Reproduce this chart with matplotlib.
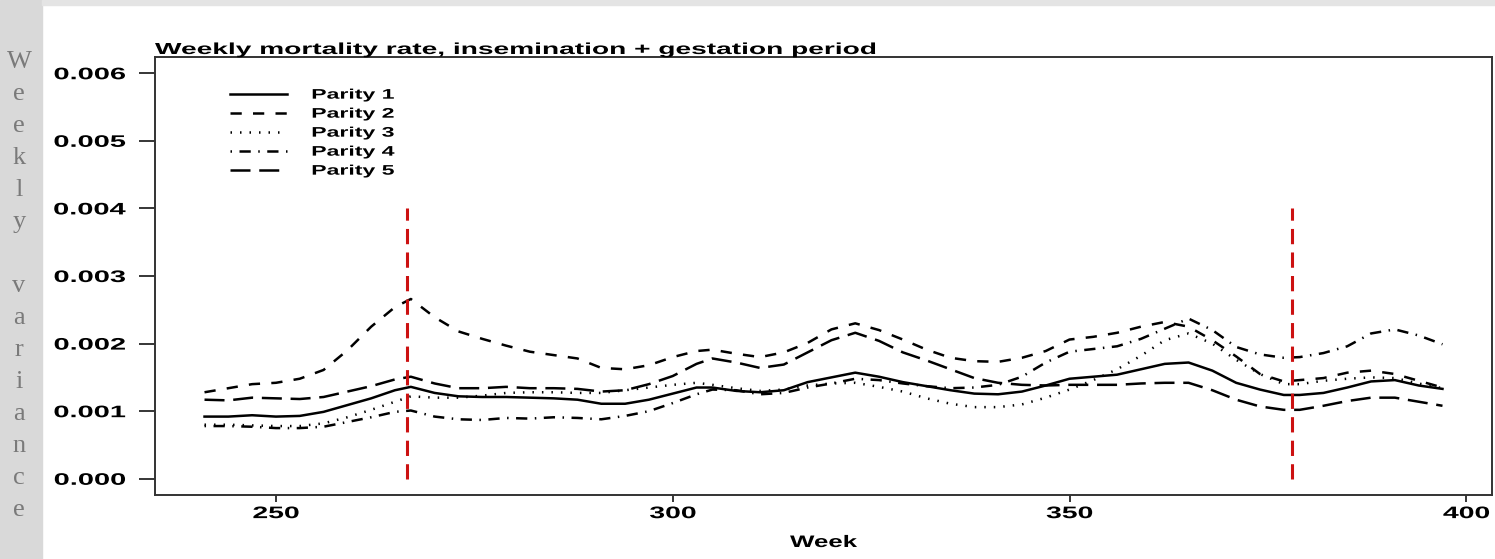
import matplotlib
matplotlib.use("Agg")
import matplotlib.pyplot as plt
from matplotlib.patches import Rectangle
from matplotlib.patheffects import AbstractPathEffect
from matplotlib.transforms import Affine2D

# weeks at which the smoothed variances are tabulated
weeks = [241, 244, 247, 250, 253, 256, 259, 262, 265, 267, 270, 273, 276, 279,
         282, 285, 288, 291, 294, 297, 300, 303, 305, 308, 311, 314, 317, 320,
         323, 326, 329, 332, 335, 338, 341, 344, 347, 350, 353, 356, 359, 362,
         365, 368, 371, 374, 377, 379, 382, 385, 388, 391, 394, 397]

parity1 = [0.00092, 0.00092, 0.00094, 0.00092, 0.00093, 0.00099, 0.00109, 0.00119,
           0.00131, 0.00136, 0.00127, 0.00122, 0.00121, 0.00121, 0.00120, 0.00119,
           0.00117, 0.00111, 0.00111, 0.00117, 0.00126, 0.00135, 0.00135, 0.00130,
           0.00128, 0.00131, 0.00143, 0.00150, 0.00157, 0.00151, 0.00143, 0.00137,
           0.00131, 0.00126, 0.00125, 0.00129, 0.00138, 0.00148, 0.00151, 0.00154,
           0.00162, 0.00170, 0.00172, 0.00160, 0.00142, 0.00132, 0.00124, 0.00124,
           0.00127, 0.00135, 0.00144, 0.00146, 0.00138, 0.00133]
parity2 = [0.00128, 0.00134, 0.00140, 0.00142, 0.00148, 0.00161, 0.00190, 0.00225,
           0.00254, 0.00266, 0.00239, 0.00218, 0.00207, 0.00197, 0.00188, 0.00183,
           0.00178, 0.00164, 0.00162, 0.00168, 0.00180, 0.00189, 0.00191, 0.00185,
           0.00180, 0.00187, 0.00201, 0.00221, 0.00230, 0.00220, 0.00206, 0.00191,
           0.00179, 0.00174, 0.00173, 0.00179, 0.00189, 0.00206, 0.00210, 0.00216,
           0.00225, 0.00232, 0.00225, 0.00205, 0.00181, 0.00155, 0.00144, 0.00146,
           0.00149, 0.00157, 0.00160, 0.00155, 0.00145, 0.00135]
parity3 = [0.00080, 0.00080, 0.00079, 0.00078, 0.00078, 0.00082, 0.00091, 0.00102,
           0.00114, 0.00122, 0.00120, 0.00120, 0.00123, 0.00127, 0.00128, 0.00128,
           0.00127, 0.00127, 0.00131, 0.00135, 0.00139, 0.00142, 0.00139, 0.00134,
           0.00130, 0.00132, 0.00138, 0.00141, 0.00142, 0.00136, 0.00129, 0.00119,
           0.00111, 0.00106, 0.00106, 0.00110, 0.00120, 0.00132, 0.00146, 0.00162,
           0.00182, 0.00205, 0.00215, 0.00200, 0.00176, 0.00155, 0.00140, 0.00140,
           0.00145, 0.00148, 0.00150, 0.00149, 0.00141, 0.00134]
parity4 = [0.00078, 0.00078, 0.00077, 0.00075, 0.00075, 0.00077, 0.00084, 0.00091,
           0.00099, 0.00101, 0.00092, 0.00088, 0.00087, 0.00090, 0.00089, 0.00091,
           0.00090, 0.00088, 0.00093, 0.00100, 0.00112, 0.00125, 0.00132, 0.00131,
           0.00125, 0.00127, 0.00135, 0.00141, 0.00148, 0.00146, 0.00141, 0.00137,
           0.00134, 0.00135, 0.00139, 0.00151, 0.00172, 0.00188, 0.00192, 0.00196,
           0.00207, 0.00222, 0.00237, 0.00220, 0.00195, 0.00184, 0.00179, 0.00180,
           0.00186, 0.00196, 0.00215, 0.00221, 0.00212, 0.00199]
parity5 = [0.00117, 0.00116, 0.00120, 0.00119, 0.00118, 0.00121, 0.00129, 0.00137,
           0.00147, 0.00151, 0.00141, 0.00134, 0.00134, 0.00136, 0.00134, 0.00134,
           0.00133, 0.00129, 0.00131, 0.00140, 0.00152, 0.00170, 0.00178, 0.00172,
           0.00164, 0.00169, 0.00187, 0.00205, 0.00216, 0.00204, 0.00187, 0.00175,
           0.00162, 0.00149, 0.00142, 0.00139, 0.00138, 0.00139, 0.00139, 0.00139,
           0.00141, 0.00142, 0.00142, 0.00131, 0.00117, 0.00107, 0.00102, 0.00102,
           0.00108, 0.00115, 0.00120, 0.00120, 0.00114, 0.00108]

labels = ["Parity 1", "Parity 2", "Parity 3", "Parity 4", "Parity 5"]
period_marks = [266.5, 378]          # start of insemination / end of gestation
yticks = [0.000, 0.001, 0.002, 0.003, 0.004, 0.005, 0.006]
xticks = [250, 300, 350, 400]
side_label = "Weekly variance"

styles = ["-", (0, (4.5, 4.5)), (0, (0.6, 3.2)), (0, (0.6, 3.0, 4.5, 3.0)), (0, (8, 3.5))]


class Widen(AbstractPathEffect):
    """Stretch text glyphs horizontally around a fraction of their width."""

    def __init__(self, sx=1.75, anchor=0.0):
        super().__init__()
        self.sx = sx
        self.anchor = anchor

    def draw_path(self, renderer, gc, tpath, affine, rgbFace=None):
        ext = tpath.get_extents()
        cx = ext.x0 + self.anchor * ext.width
        stretch = Affine2D().translate(-cx, 0).scale(self.sx, 1).translate(cx, 0)
        renderer.draw_path(gc, tpath, stretch + affine, rgbFace)


plt.rcParams["font.family"] = ["Liberation Sans", "DejaVu Sans"]
plt.rcParams["font.weight"] = "bold"

W, H = 1495, 559
fig = plt.figure(figsize=(W / 100, H / 100), dpi=100)

# grey page margins
fig.patches.append(Rectangle((0, 0), 42 / W, 1, transform=fig.transFigure,
                             color="#d9d9d9", zorder=-5))
fig.patches.append(Rectangle((42 / W, 1 - 5 / H), 1, 5 / H, transform=fig.transFigure,
                             color="#e4e4e4", zorder=-5))

for i, ch in enumerate(side_label):
    fig.text(19 / W, 1 - (62 + 32 * i) / H, ch, ha="center", va="center",
             family="Liberation Serif", fontweight="normal", fontsize=19,
             color="#7a7a7a")

ax = fig.add_axes([155 / W, 64 / H, (1492 - 155) / W, 438 / H])

series = [parity1, parity2, parity3, parity4, parity5]
for vals, ls, lab in zip(series, styles, labels):
    ax.plot(weeks, vals, color="black", lw=1.8, linestyle=ls, label=lab)

for wk in period_marks:
    ax.plot([wk, wk], [0, 0.004], color="#cc1111", lw=2.2, linestyle=(0, (5, 2.7)))

# R-style 4% padding around the data
xpad = 0.04 * (weeks[-1] - weeks[0])
ypad = 0.04 * (yticks[-1] - yticks[0])
ax.set_xlim(weeks[0] - xpad, weeks[-1] + xpad)
ax.set_ylim(yticks[0] - ypad, yticks[-1] + ypad)

ax.set_xticks(xticks)
ax.set_yticks(yticks)
ax.set_yticklabels(["%.3f" % t for t in yticks])
ax.tick_params(axis="y", length=11.5, width=1.1, pad=10, labelsize=12)
ax.tick_params(axis="x", length=5, width=1.1, pad=3, labelsize=12)
for sp in ax.spines.values():
    sp.set_linewidth(1.4)
    sp.set_color("#333333")

for t in ax.get_yticklabels():
    t.set_path_effects([Widen(1.74, 1.0)])
for t in ax.get_xticklabels():
    t.set_path_effects([Widen(1.7, 0.5)])

xl = ax.set_xlabel("Week", fontsize=12, fontweight="bold", labelpad=10)
xl.set_path_effects([Widen(1.55, 0.5)])
tt = ax.set_title("Weekly mortality rate, insemination + gestation period",
                  loc="left", fontsize=11.5, fontweight="bold", pad=2)
tt.set_path_effects([Widen(1.76, 0.0)])

leg = ax.legend(loc="upper left", bbox_to_anchor=(0.056, 0.93), frameon=False,
                fontsize=10, handlelength=4.1, handletextpad=1.8,
                labelspacing=0.36, borderpad=0, borderaxespad=0)
for t in leg.get_texts():
    t.set_path_effects([Widen(1.66, 0.0)])

fig.savefig("out.png", dpi=100)
